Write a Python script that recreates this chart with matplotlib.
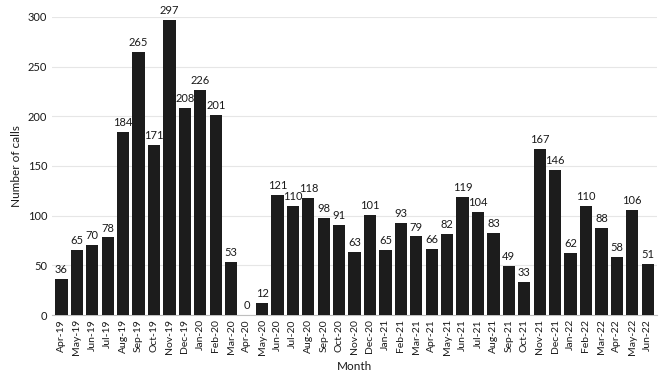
import matplotlib
matplotlib.use("Agg")
import matplotlib.pyplot as plt

plt.rcParams['font.family'] = ['Lato', 'DejaVu Sans']

months = ["Apr-19", "May-19", "Jun-19", "Jul-19", "Aug-19", "Sep-19", "Oct-19", "Nov-19",
          "Dec-19", "Jan-20", "Feb-20", "Mar-20", "Apr-20", "May-20", "Jun-20", "Jul-20",
          "Aug-20", "Sep-20", "Oct-20", "Nov-20", "Dec-20", "Jan-21", "Feb-21", "Mar-21",
          "Apr-21", "May-21", "Jun-21", "Jul-21", "Aug-21", "Sep-21", "Oct-21", "Nov-21",
          "Dec-21", "Jan-22", "Feb-22", "Mar-22", "Apr-22", "May-22", "Jun-22"]
calls = [36, 65, 70, 78, 184, 265, 171, 297, 208, 226, 201, 53, 0, 12, 121, 110,
         118, 98, 91, 63, 101, 65, 93, 79, 66, 82, 119, 104, 83, 49, 33, 167,
         146, 62, 110, 88, 58, 106, 51]

fig = plt.figure(figsize=(6.69, 3.75), dpi=100)
ax = fig.add_axes([0.078, 0.16, 0.904, 0.795])

x = range(len(months))
ax.bar(x, calls, width=0.8, color="#1c1c1c", zorder=3)
for xi, v in zip(x, calls):
    ax.text(xi, v + 4, str(v), ha="center", va="bottom", fontsize=8, color="#1a1a1a")

ax.set_xlim(-0.6, len(months) - 0.4)
ax.set_ylim(0, 300)
ax.set_yticks(range(0, 301, 50))
ax.set_xticks(list(x))
ax.set_xticklabels(months, rotation=90, fontsize=7.5)
ax.tick_params(axis="y", labelsize=8, length=0, colors="#1a1a1a")
ax.tick_params(axis="x", length=0, colors="#1a1a1a", pad=3)
ax.grid(axis="y", color="#e6e6e6", linewidth=0.8, zorder=0)
for s in ["top", "right", "left"]:
    ax.spines[s].set_visible(False)
ax.spines["bottom"].set_color("#bfbfbf")
ax.set_ylabel("Number of calls", fontsize=8.5, color="#1a1a1a")
ax.set_xlabel("Month", fontsize=8.5, labelpad=4, color="#1a1a1a")

fig.savefig("out.png", dpi=100)
